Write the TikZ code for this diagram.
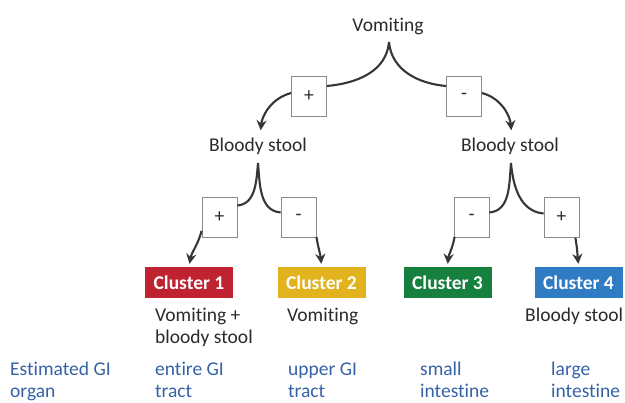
\documentclass[tikz,border=0pt]{standalone}
\usepackage{fontspec}
\setmainfont[Ligatures=NoCommon]{Carlito}
\usetikzlibrary{arrows.meta}
\definecolor{lineC}{HTML}{363636}
\definecolor{textC}{HTML}{2A2A2A}
\definecolor{boxC}{HTML}{8A8A8A}
\definecolor{redC}{HTML}{C0222F}
\definecolor{yelC}{HTML}{E2B21F}
\definecolor{grnC}{HTML}{16813F}
\definecolor{bluC}{HTML}{2F7CC4}
\definecolor{organC}{HTML}{3562A6}
\tikzset{
  lbl/.style={font=\fontsize{19.5}{22.5}\selectfont, text=textC, inner sep=0pt, anchor=base},
  sign/.style={draw=boxC, line width=0.8pt, fill=white, minimum width=35pt, minimum height=40pt, inner sep=0pt, font=\fontsize{19.5}{22.5}\selectfont, text=textC},
  cluster/.style={fill=#1, minimum width=88pt, minimum height=31pt, inner sep=0pt, text=white, font=\fontsize{19.5}{22.5}\selectfont\bfseries},
  link/.style={draw=lineC, line width=2.1pt},
  arr/.style={link, -{Stealth[length=10pt,width=10pt]}},
  under/.style={font=\fontsize{19.5}{22.5}\selectfont, text=textC, inner sep=0pt, anchor=base west, align=left},
  organ/.style={font=\fontsize{19.5}{22}\selectfont, text=organC, inner sep=0pt, anchor=base west, align=left}
}
\begin{document}
\begin{tikzpicture}[x=1pt,y=1pt]
\useasboundingbox (0,0) rectangle (625,-403);
% level 0
\node[lbl] (vom) at (388,-32) {Vomiting};
\coordinate (cusp0) at (389,-42);
% level 1
\node[sign] (b1) at (309,-96) {+};
\node[sign] (b2) at (464,-96) {-};
\node[lbl] (bsL) at (258,-152) {Bloody stool};
\node[lbl] (bsR) at (510,-152) {Bloody stool};
\coordinate (cuspL) at (258,-163);
\coordinate (cuspR) at (511,-163);
% level 2
\node[sign] (b3) at (219.5,-217.5) {+};
\node[sign] (b4) at (298.5,-217.5) {-};
\node[sign] (b5) at (471.5,-217.5) {-};
\node[sign] (b6) at (561.5,-217.5) {+};
\node[cluster=redC] (c1) at (189,-282.5) {Cluster 1};
\node[cluster=yelC] (c2) at (321.5,-282.5) {Cluster 2};
\node[cluster=grnC] (c3) at (447.5,-282.5) {Cluster 3};
\node[cluster=bluC] (c4) at (578.5,-282.5) {Cluster 4};
% texts under clusters (anchor base = last line)
\node[under] (t1) at (155,-344) {Vomiting +\\bloody stool};
\node[under] (t2) at (287,-321.5) {Vomiting};
\node[under] (t4) at (525,-321.5) {Bloody stool};
% organ row
\node[organ] (o0) at (10,-397.5) {Estimated GI\\organ};
\node[organ] (o1) at (155,-397.5) {entire GI\\tract};
\node[organ] (o2) at (288,-397.5) {upper GI\\tract};
\node[organ] (o3) at (420,-397.5) {small\\intestine};
\node[organ] (o4) at (551,-397.5) {large\\intestine};
% connectors level 0 -> 1
\draw[link] (cusp0) to[out=-95,in=5] ([yshift=10pt]b1.east);
\draw[link] (cusp0) to[out=-85,in=175] ([yshift=10pt]b2.west);
\draw[arr, shorten >=8pt] ([yshift=3pt]b1.west) to[out=195,in=85] ([xshift=2pt]bsL.north);
\draw[arr, shorten >=8pt] ([yshift=3pt]b2.east) to[out=-15,in=95] ([xshift=2pt]bsR.north);
% connectors level 1 -> 2
\draw[link] (cuspL) to[out=-95,in=5] ([yshift=12pt]b3.east);
\draw[link] (cuspL) to[out=-85,in=175] ([yshift=5pt]b4.west);
\draw[link] (cuspR) to[out=-95,in=5] ([yshift=5pt]b5.east);
\draw[link] (cuspR) to[out=-85,in=175] ([yshift=4pt]b6.west);
\draw[arr, shorten >=3pt] ([yshift=7pt]b3.south west) to[out=-105,in=80] (c1.north);
\draw[arr, shorten >=3pt] ([yshift=1pt]b4.south east) to[out=-80,in=95] (c2.north);
\draw[arr, shorten >=3pt] ([xshift=1pt,yshift=1pt]b5.south west) to[out=-100,in=85] (c3.north);
\draw[arr, shorten >=3pt] ([xshift=-4pt]b6.south east) to[out=-80,in=95] (c4.north);
\end{tikzpicture}
\end{document}
